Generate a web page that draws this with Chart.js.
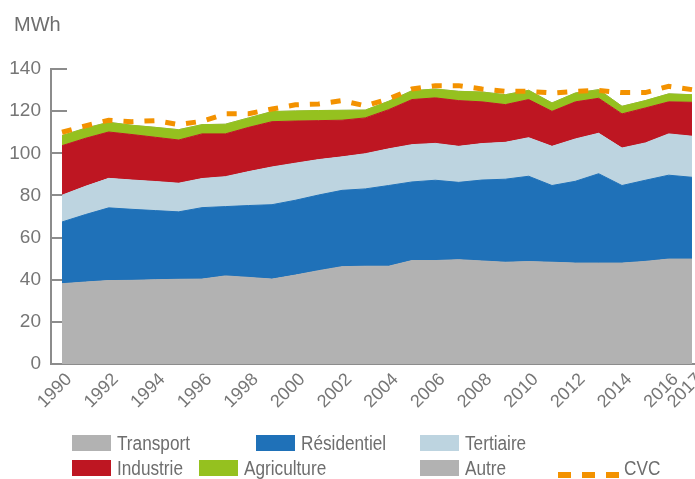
<!DOCTYPE html>
<html>
<head>
<meta charset="utf-8">
<script src="https://cdn.jsdelivr.net/npm/chart.js@4.4.1/dist/chart.umd.min.js"></script>
<style>
  body { margin: 0; background: #fff; }
  #wrap { position: relative; width: 695px; height: 479px; font-family: 'Liberation Sans', Arial, sans-serif; color: #6e6e6e; }
  #unit { position: absolute; left: 14px; top: 13px; font-size: 20px; line-height: 23px; }
  .lg-box { position: absolute; width: 39px; height: 16px; }
  .lg-txt { position: absolute; font-size: 20px; line-height: 20px; transform: scaleX(0.86); transform-origin: left center; white-space: nowrap; }
  .dash { position: absolute; width: 13px; height: 6px; background: #f39200; }
</style>
</head>
<body>
<div id="wrap">
  <canvas id="chart" width="695" height="479"></canvas>
  <div id="unit">MWh</div>
  <div id="legend"></div>
</div>
<script>
const years = [1990, 1991, 1992, 1993, 1994, 1995, 1996, 1997, 1998, 1999, 2000, 2001, 2002, 2003,
  2004, 2005, 2006, 2007, 2008, 2009, 2010, 2011, 2012, 2013, 2014, 2015, 2016, 2017];
const xTicks = [1990, 1992, 1994, 1996, 1998, 2000, 2002, 2004, 2006, 2008, 2010, 2012, 2014, 2016, 2017];
const yTicks = [0, 20, 40, 60, 80, 100, 120, 140];

const transport = [38.1, 38.9, 39.6, 39.7, 40.0, 40.2, 40.3, 41.8, 41.1, 40.3, 42.2, 44.3, 46.2, 46.4,
  46.4, 49.1, 49.1, 49.5, 48.9, 48.3, 48.6, 48.3, 47.9, 47.9, 47.9, 48.7, 49.8, 49.8];
const residentiel = [29.3, 32.0, 34.5, 33.7, 32.8, 32.0, 33.9, 32.9, 34.1, 35.3, 35.5, 35.9, 36.2, 36.7,
  38.3, 37.3, 38.1, 36.7, 38.4, 39.4, 40.5, 36.4, 38.8, 42.4, 36.8, 38.5, 39.8, 38.8];
const tertiaire = [12.7, 13.4, 14.0, 13.9, 13.8, 13.6, 13.8, 14.2, 16.1, 17.9, 17.6, 16.8, 15.9, 16.7,
  17.4, 17.7, 17.5, 17.1, 17.3, 17.5, 18.3, 18.6, 20.1, 19.2, 17.8, 17.7, 19.6, 19.5];
const industrie = [23.5, 22.8, 22.0, 21.6, 21.0, 20.5, 21.2, 20.3, 21.0, 21.5, 20.0, 18.5, 17.4, 17.0,
  18.6, 21.4, 21.6, 21.7, 19.8, 17.9, 18.1, 16.6, 17.6, 16.6, 16.2, 16.6, 15.2, 16.1];
const agriculture = [4.8, 4.8, 4.6, 4.4, 4.7, 4.9, 4.4, 4.6, 4.5, 4.8, 4.8, 4.8, 4.7, 3.7,
  4.0, 4.2, 4.2, 4.4, 4.7, 4.7, 4.4, 4.0, 4.2, 4.1, 3.6, 3.5, 3.8, 3.6];
const autre = [0, 0, 0, 0, 0, 0, 0, 0, 0, 0, 0, 0, 0, 0,
  0, 0, 0, 0, 0, 0, 0, 0, 0, 0, 0, 0, 0, 0];
const cvc = [110.0, 113.0, 115.7, 115.0, 115.5, 113.6, 115.2, 118.7, 118.8, 121.0, 123.0, 123.4, 125.0, 122.5,
  125.8, 130.5, 132.1, 132.1, 130.5, 129.4, 129.4, 128.6, 129.4, 129.8, 128.8, 128.8, 131.8, 130.2];

const axisColor = "#8c8c8c";
const textColor = "#767676";
const fontFamily = "'Liberation Sans', Arial, sans-serif";

function pts(vals) {
  return years.map((yr, i) => ({ x: yr, y: vals[i] }));
}

function aire(label, vals, color, fill) {
  return {
    label: label,
    data: pts(vals),
    backgroundColor: color,
    borderColor: color,
    borderWidth: 1,
    pointRadius: 0,
    fill: fill,
    tension: 0,
    yAxisID: "y",
    order: 1
  };
}

// ticks vers l'intérieur sur l'axe des y
const tickMarks = {
  id: "tickMarks",
  beforeDatasetsDraw(chart) {
    const ctx = chart.ctx;
    const y = chart.scales.y;
    const left = chart.chartArea.left;
    ctx.save();
    ctx.strokeStyle = axisColor;
    ctx.lineWidth = 2;
    yTicks.forEach(v => {
      const py = Math.round(y.getPixelForValue(v));
      ctx.beginPath();
      ctx.moveTo(left, py);
      ctx.lineTo(left + 16, py);
      ctx.stroke();
    });
    ctx.restore();
  }
};

new Chart(document.getElementById("chart"), {
  type: "line",
  data: {
    datasets: [
      aire("Transport", transport, "#b2b2b2", "origin"),
      aire("Résidentiel", residentiel, "#1f71b8", "-1"),
      aire("Tertiaire", tertiaire, "#bdd4e0", "-1"),
      aire("Industrie", industrie, "#be1622", "-1"),
      aire("Agriculture", agriculture, "#95c11f", "-1"),
      aire("Autre", autre, "#b2b2b2", "-1"),
      {
        label: "CVC",
        data: pts(cvc),
        borderColor: "#f39200",
        borderWidth: 5,
        borderDash: [10, 11],
        pointRadius: 0,
        fill: false,
        tension: 0,
        yAxisID: "y2",
        order: 0
      }
    ]
  },
  options: {
    responsive: false,
    animation: false,
    layout: { padding: { top: 69, left: 0, right: 0, bottom: 0 } },
    plugins: { legend: { display: false }, tooltip: { enabled: false } },
    scales: {
      x: {
        type: "linear",
        min: 1989.528,
        max: 2017.129,
        grid: { display: false, drawTicks: false },
        border: { display: true, color: axisColor, width: 2 },
        afterBuildTicks: s => { s.ticks = xTicks.map(v => ({ value: v })); },
        afterFit: s => { s.height = 115; s.paddingLeft = 0; s.paddingRight = 0; },
        ticks: {
          minRotation: 45,
          maxRotation: 45,
          autoSkip: false,
          padding: 5,
          labelOffset: 7,
          color: textColor,
          font: { family: fontFamily, size: 18 },
          callback: v => String(v)
        }
      },
      y: {
        stacked: true,
        min: 0,
        max: 140,
        grid: { display: false, drawTicks: false },
        border: { display: true, color: axisColor, width: 2 },
        afterBuildTicks: s => { s.ticks = yTicks.map(v => ({ value: v })); },
        afterFit: s => { s.width = 51; },
        ticks: {
          padding: 10,
          color: textColor,
          font: { family: fontFamily, size: 19 }
        }
      },
      y2: {
        display: false,
        min: 0,
        max: 140
      }
    }
  },
  plugins: [tickMarks]
});

// légende
const legendItems = [
  { label: "Transport", color: "#b2b2b2", x: 72, y: 435 },
  { label: "Résidentiel", color: "#1f71b8", x: 256, y: 435 },
  { label: "Tertiaire", color: "#bdd4e0", x: 420, y: 435 },
  { label: "Industrie", color: "#be1622", x: 72, y: 460 },
  { label: "Agriculture", color: "#95c11f", x: 199, y: 460 },
  { label: "Autre", color: "#b2b2b2", x: 420, y: 460 }
];
const legend = document.getElementById("legend");
legendItems.forEach(item => {
  const box = document.createElement("div");
  box.className = "lg-box";
  box.style.left = item.x + "px";
  box.style.top = item.y + "px";
  box.style.background = item.color;
  legend.appendChild(box);
  const txt = document.createElement("div");
  txt.className = "lg-txt";
  txt.style.left = (item.x + 45) + "px";
  txt.style.top = (item.y - 2) + "px";
  txt.textContent = item.label;
  legend.appendChild(txt);
});
[558, 582, 606].forEach(x => {
  const d = document.createElement("div");
  d.className = "dash";
  d.style.left = x + "px";
  d.style.top = "472px";
  legend.appendChild(d);
});
const cvcTxt = document.createElement("div");
cvcTxt.className = "lg-txt";
cvcTxt.style.left = "624px";
cvcTxt.style.top = "458px";
cvcTxt.textContent = "CVC";
legend.appendChild(cvcTxt);
</script>
</body>
</html>
